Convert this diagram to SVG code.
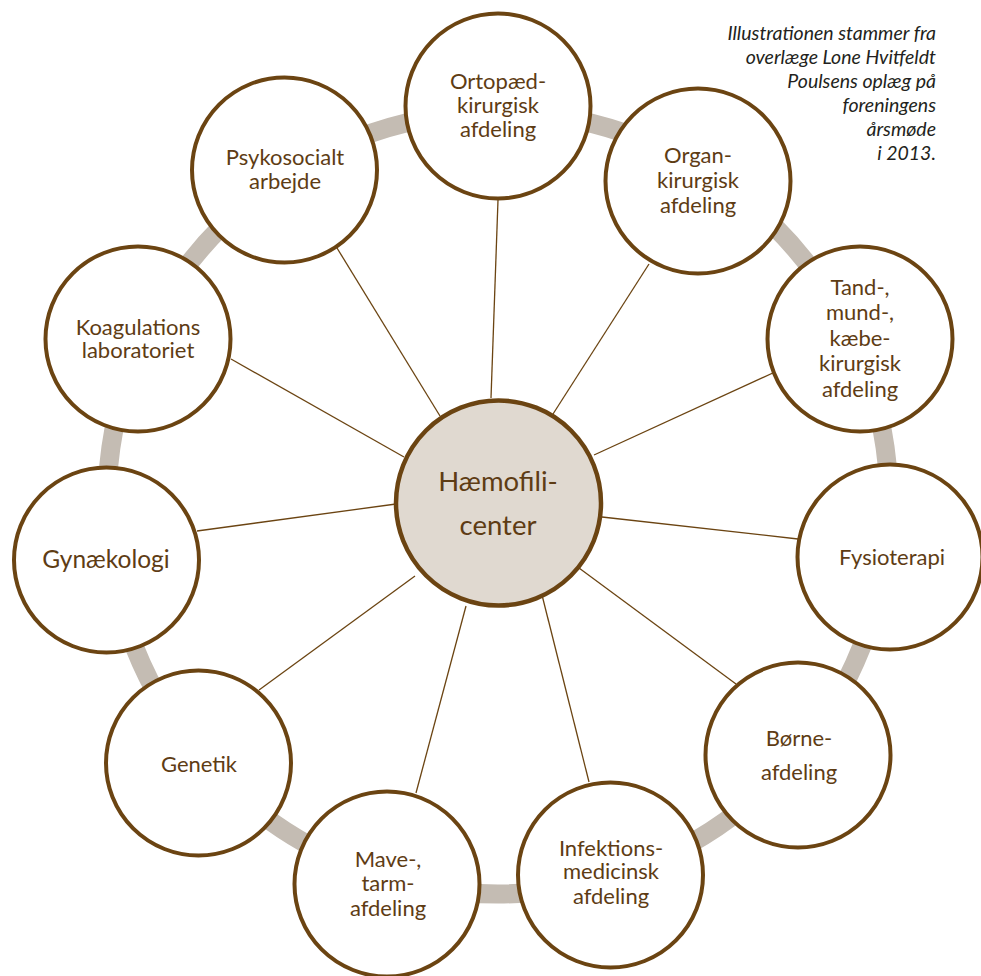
<svg xmlns="http://www.w3.org/2000/svg" width="981" height="976" viewBox="0 0 981 976">
<style>
.ring{fill:none;stroke:#c4bcb3;stroke-width:19}
.spoke{stroke:#6b4412;stroke-width:1.3;fill:none}
.node{fill:#ffffff;stroke:#6b4412;stroke-width:4}
.hub{fill:#e0d9d0;stroke:#6b4412;stroke-width:4.5}
.t{font-family:Lato,"Liberation Sans",sans-serif;font-size:22px;fill:#5e3c14;text-anchor:middle}
.big{font-size:24.5px}
.th{font-family:Lato,"Liberation Sans",sans-serif;font-size:27.5px;fill:#5e3c14;text-anchor:middle}
.cap{font-family:Lato,"Liberation Sans",sans-serif;font-size:19.5px;font-style:italic;fill:#231f20;text-anchor:end}
</style>
<rect width="981" height="976" fill="#ffffff"/>
<circle class="ring" cx="498" cy="503" r="391"/>
<g id="connectors">
<line class="spoke" x1="498" y1="200" x2="491" y2="398"/>
<line class="spoke" x1="649" y1="264" x2="553" y2="414"/>
<line class="spoke" x1="775" y1="372" x2="594" y2="455"/>
<line class="spoke" x1="602" y1="517" x2="798" y2="539"/>
<line class="spoke" x1="579" y1="568" x2="736" y2="684"/>
<line class="spoke" x1="542" y1="595" x2="589" y2="782"/>
<line class="spoke" x1="466" y1="606" x2="416" y2="793"/>
<line class="spoke" x1="415" y1="576" x2="259" y2="690"/>
<line class="spoke" x1="197" y1="531" x2="396" y2="504"/>
<line class="spoke" x1="231" y1="359" x2="404" y2="457"/>
<line class="spoke" x1="337" y1="248" x2="440" y2="416"/>
</g>
<g id="hub">
<circle class="hub" cx="498.5" cy="503" r="102.5"/>
<text class="th" x="498" y="491">Hæmofili-</text>
<text class="th" x="498" y="535">center</text>
</g>
<g id="ortopaed">
<circle class="node" cx="498" cy="106" r="92.5"/>
<text class="t" x="498" y="89">Ortopæd-</text>
<text class="t" x="498" y="113">kirurgisk</text>
<text class="t" x="498" y="137">afdeling</text>
</g>
<g id="organ">
<circle class="node" cx="698" cy="181" r="92.5"/>
<text class="t" x="698" y="163">Organ-</text>
<text class="t" x="698" y="188">kirurgisk</text>
<text class="t" x="698" y="213">afdeling</text>
</g>
<g id="tand">
<circle class="node" cx="860" cy="339" r="92.5"/>
<text class="t" x="860" y="295">Tand-,</text>
<text class="t" x="860" y="320">mund-,</text>
<text class="t" x="860" y="346">kæbe-</text>
<text class="t" x="860" y="371">kirurgisk</text>
<text class="t" x="860" y="397">afdeling</text>
</g>
<g id="fysioterapi">
<circle class="node" cx="890" cy="557" r="92.5"/>
<text class="t" x="892" y="565">Fysioterapi</text>
</g>
<g id="borne">
<circle class="node" cx="798" cy="755" r="92.5"/>
<text class="t" x="799" y="746">Børne-</text>
<text class="t" x="799" y="780">afdeling</text>
</g>
<g id="infektion">
<circle class="node" cx="610.5" cy="875" r="92.5"/>
<text class="t" x="611" y="856">Infektions-</text>
<text class="t" x="611" y="879">medicinsk</text>
<text class="t" x="611" y="904">afdeling</text>
</g>
<g id="mave">
<circle class="node" cx="387" cy="884" r="92.5"/>
<text class="t" x="388" y="867">Mave-,</text>
<text class="t" x="388" y="891">tarm-</text>
<text class="t" x="388" y="916">afdeling</text>
</g>
<g id="genetik">
<circle class="node" cx="198.5" cy="763" r="92.5"/>
<text class="t" x="199" y="772">Genetik</text>
</g>
<g id="gynaekologi">
<circle class="node" cx="106.5" cy="560" r="92.5"/>
<text class="t big" x="106" y="568">Gynækologi</text>
</g>
<g id="koagulation">
<circle class="node" cx="138" cy="339" r="92.5"/>
<text class="t" x="138" y="335">Koagulations</text>
<text class="t" x="138" y="358">laboratoriet</text>
</g>
<g id="psykosocialt">
<circle class="node" cx="284.5" cy="170" r="92.5"/>
<text class="t" x="285" y="165">Psykosocialt</text>
<text class="t" x="285" y="189">arbejde</text>
</g>
<g id="caption">
<text class="cap" x="936" y="40">Illustrationen stammer fra</text>
<text class="cap" x="936" y="64">overlæge Lone Hvitfeldt</text>
<text class="cap" x="936" y="88">Poulsens oplæg på</text>
<text class="cap" x="936" y="112">foreningens</text>
<text class="cap" x="936" y="136">årsmøde</text>
<text class="cap" x="936" y="160">i 2013.</text>
</g>
</svg>
